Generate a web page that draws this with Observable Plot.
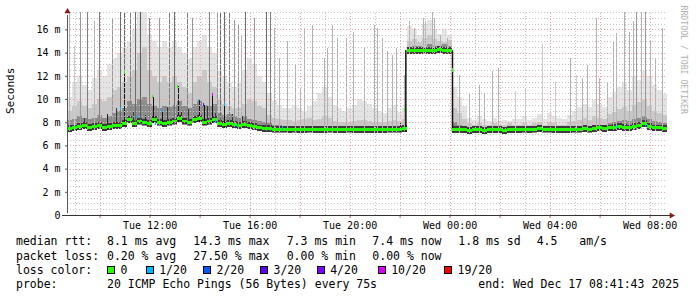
<!DOCTYPE html>
<html><head><meta charset="utf-8">
<script src="https://cdn.jsdelivr.net/npm/d3@7"></script>
<script src="https://cdn.jsdelivr.net/npm/@observablehq/plot@0.6"></script>
<style>
html,body{margin:0;padding:0;background:#fff;}
#wrap{position:relative;width:697px;height:297px;overflow:hidden;font-family:"DejaVu Sans Mono",monospace;background:#fff;}
#wrap svg{position:absolute;left:0;top:0;}
.lg{position:absolute;font-size:11.5px;line-height:14px;white-space:pre;color:#000;}
.sq{position:absolute;width:8px;height:8px;box-sizing:border-box;border:1px solid #000;}
</style></head><body><div id="wrap"></div>
<script>
// ---- time frame (24 h ending Wed Dec 17 08:41:43 2025) ----
const startTime = "2025-12-16T08:41:43Z";
const endTime = "2025-12-17T08:41:43Z";
const stepMinutes = 12; // one column of smoke = 12 minutes

// ---- median rtt per 12-minute step (ms) ----
const medianMs = [
  7.45, 7.5, 7.65, 7.7, 7.55, 7.6, 7.7, 7.55, 7.6, 7.7,
  7.7, 7.9, 8.2, 7.9, 8.1, 8.0, 7.9, 8.2, 8.0, 7.9,
  8.0, 8.1, 8.3, 8.1, 8.0, 8.2, 8.3, 8.0, 8.1, 8.2,
  7.9, 7.8, 7.9, 7.8, 7.7, 7.8, 7.7, 7.6, 7.5, 7.45,
  7.45, 7.4, 7.4, 7.4, 7.35, 7.4, 7.35, 7.35, 7.4, 7.35,
  7.35, 7.35, 7.4, 7.35, 7.35, 7.35, 7.4, 7.35, 7.35, 7.35,
  7.35, 7.35, 7.35, 7.35, 7.4, 7.4, 7.4, 7.45,
  14.15, 14.2, 14.2, 14.15, 14.2, 14.2, 14.25, 14.2, 14.2,
  7.35, 7.35, 7.35, 7.3, 7.35, 7.35, 7.3, 7.35, 7.35, 7.35, 7.3, 7.35, 7.35,
  7.35, 7.4, 7.35, 7.4, 7.45, 7.4, 7.4, 7.35, 7.35, 7.35,
  7.35, 7.4, 7.4, 7.45, 7.4, 7.45, 7.5, 7.45, 7.5, 7.55,
  7.6, 7.55, 7.5, 7.6, 7.7, 7.9, 7.6, 7.5, 7.5, 7.45
];
// top of the dense (dark) smoke per step (ms)
const darkSmokeMs = [
  8.2, 8.3, 8.5, 8.4, 8.3, 8.4, 8.6, 8.4, 8.5, 8.8,
  9.0, 9.2, 9.8, 9.6, 10.0, 10.2, 9.6, 9.4, 9.2, 9.4,
  9.3, 9.5, 9.8, 9.4, 9.2, 9.6, 9.8, 9.5, 9.4, 9.6,
  8.8, 8.6, 8.7, 8.5, 8.4, 8.5, 8.3, 8.2, 8.1, 8.0,
  7.9, 7.8, 7.8, 7.7, 7.7, 7.7, 7.7, 7.6, 7.6, 7.6,
  7.6, 7.7, 7.6, 7.6, 7.6, 7.6, 7.6, 7.6, 7.7, 7.6,
  7.6, 7.6, 7.6, 7.6, 7.7, 7.7, 7.7, 7.8,
  14.5, 14.6, 14.6, 14.5, 14.7, 14.6, 14.6, 14.7, 14.6,
  8.0, 7.8, 7.7, 7.6, 7.6, 7.6, 7.6, 7.6, 7.6, 7.6, 7.6, 7.6, 7.6,
  7.6, 7.6, 7.6, 7.6, 7.7, 7.6, 7.7, 7.6, 7.6, 7.6,
  7.7, 7.7, 7.7, 7.8, 7.7, 7.8, 7.8, 7.8, 7.9, 8.0,
  8.1, 8.2, 8.1, 8.3, 8.4, 8.5, 8.3, 8.1, 8.0, 7.9
];
// top of the medium smoke per step (ms)
const midSmokeMs = [
  9.0, 9.4, 9.8, 9.4, 9.2, 9.6, 10.0, 9.8, 10.2, 10.8,
  11.0, 11.5, 12.0, 12.5, 14.0, 14.5, 12.5, 12.0, 11.5, 12.0,
  11.5, 12.0, 11.5, 11.0, 10.5, 11.5, 12.0, 12.5, 11.5, 11.0,
  10.0, 9.6, 9.4, 9.2, 9.2, 9.6, 10.0, 9.8, 9.4, 9.2,
  8.6, 8.4, 8.3, 8.2, 8.2, 8.1, 8.2, 8.3, 8.4, 8.2,
  8.3, 8.5, 8.4, 8.1, 8.0, 8.0, 8.0, 8.1, 8.2, 8.2,
  8.1, 8.0, 8.0, 8.0, 8.1, 8.2, 8.1, 8.3,
  15.0, 15.2, 14.9, 15.3, 15.5, 15.2, 15.0, 14.9, 15.1,
  9.2, 8.8, 8.3, 7.9, 7.8, 7.9, 7.8, 7.8, 7.9, 7.8, 7.8, 7.9, 7.8,
  7.8, 7.9, 7.8, 7.9, 8.0, 7.8, 8.0, 7.9, 7.8, 7.8,
  8.0, 8.1, 8.2, 8.4, 8.2, 8.5, 8.4, 8.3, 8.7, 8.9,
  9.1, 9.3, 9.0, 9.5, 9.7, 9.9, 9.4, 9.0, 8.8, 8.6
];
// top of the light haze per step (ms)
const lightSmokeMs = [
  10.2, 11.5, 12.0, 11.2, 10.8, 11.8, 12.5, 12.0, 13.0, 13.5,
  14.0, 14.5, 15.0, 16.0, 17.5, 17.5, 15.5, 15.0, 14.5, 15.0,
  14.5, 15.0, 14.5, 14.0, 13.5, 14.5, 15.0, 15.5, 14.5, 14.0,
  12.5, 12.0, 11.5, 11.0, 11.5, 12.5, 13.5, 13.0, 12.0, 11.5,
  10.5, 9.8, 9.5, 9.2, 9.2, 9.5, 9.2, 9.0, 9.4, 9.8,
  10.5, 11.0, 10.2, 9.5, 9.2, 9.0, 9.2, 9.5, 10.0, 9.8,
  9.6, 9.2, 9.0, 8.8, 9.2, 9.5, 8.9, 9.2,
  16.3, 16.0, 15.5, 16.5, 16.8, 16.0, 15.6, 16.0, 15.5,
  11.0, 10.2, 9.4, 8.4, 8.2, 8.5, 8.3, 8.1, 8.4, 8.1, 8.2, 8.1, 8.3,
  8.3, 8.5, 8.2, 8.4, 8.7, 8.3, 8.8, 8.5, 8.4, 8.3,
  8.6, 9.0, 9.3, 9.6, 9.3, 9.9, 9.6, 9.3, 10.2, 10.6,
  11.0, 11.5, 10.8, 12.0, 11.6, 12.4, 12.0, 11.2, 10.8, 10.4
];

// ---- individual ping spikes: minutes after start, top (ms), pings involved ----
const spikeMinute = [4,16,32,48,64,76,96,108,128,137.5,152,164,176,186.5,197.5,220,244,256,274,288,300,340,360,
  40,118,158,240,290,335,355,395,420,
  368,377.5,388,400,410,417.6,428,448,478,488,496,508,528,548,558.5,569.5,588,616,624,636,648,670,686,712,736,
  744,756,768,780,790,800,809,820,832,854,860,876,880,896,912,
  940,964,988,1000,1020,1034,1076,1098,
  1140,1172,1208,1222,1236,1248,1270,1276,1296,1310,1318,1336,1348,1358,1366,1378,1388,1400,1410,1428,
  137.5,205.7,265.7,316,328,348.7,228,377.5];
const spikeTopMs = [17.5,14.6,17.5,17.5,16.7,17.5,8.7,17.0,17.5,17.5,17.5,17.5,17.5,8.65,17.0,17.0,17.5,17.5,8.9,17.5,17.0,17.5,17.5,
  8.4,9.2,9.0,9.3,9.1,9.4,8.8,8.7,8.5,
  17.5,17.5,17.5,16.8,16.4,15.5,17.5,17.0,17.5,17.5,16.1,13.5,15.0,12.95,10.9,16.1,16.4,13.5,14.4,16.4,15.3,15.3,15.8,14.4,16.4,
  16.1,15.3,14.1,13.8,14.4,8.1,12.1,16.7,16.1,17.0,16.7,17.5,17.0,15.5,15.3,
  12.1,10.4,11.2,10.4,12.4,12.7,10.7,10.9,
  14.7,11.5,13.5,12.1,11.8,12.95,17.0,11.8,11.5,15.0,15.7,17.5,15.8,16.7,17.5,17.5,17.5,15.0,13.5,16.1,
  12.3,10.2,11.1,9.9,9.5,10.35,9.0,9.5];
const spikePings = [2,1,3,4,2,4,12,3,5,5,4,5,6,12,4,3,4,5,12,4,3,4,3,
  10,10,10,10,10,10,10,10,10,
  5,5,4,3,3,2,5,3,5,4,2,2,2,2,2,2,2,2,2,2,2,2,2,2,2,
  2,2,2,2,2,12,2,2,2,2,2,2,2,2,2,
  2,2,2,2,2,2,1,1,
  1,1,2,1,2,2,2,2,2,2,2,2,2,2,3,2,3,2,2,2,
  14,14,14,14,14,14,14,14];

// ---- level shifts (minutes after start, from ms, to ms) ----
const shiftMinute = [812, 924];
const shiftFromMs = [7.4, 7.4];
const shiftToMs = [14.2, 14.2];

// ---- median points with their packet loss (of 20) ----
const lossDotMinute = [128,137.5,166,205.7,213,228,265.7,316,328,348.7,356,377.5,408,516,809,924,1320,1392];
const lossDotMs = [9.2,12.3,8.5,10.2,7.9,9.0,11.1,9.9,9.5,10.35,8.1,9.5,7.7,7.5,9.06,12.5,7.6,7.7];
const lossDotCount = [1,0,1,0,1,1,0,1,3,10,1,1,1,1,0,0,1,1];

// ---- loss colour legend ----
const lossLevels = [0, 1, 2, 3, 4, 10, 19];
const lossLabels = ["0", "1/20", "2/20", "3/20", "4/20", "10/20", "19/20"];
const lossColors = ["#26ff00", "#00b8ff", "#0059ff", "#5e00ff", "#7e00ff", "#dd00ff", "#ff0000"];

// ---- axes ----
const yTickValues = [0, 2, 4, 6, 8, 10, 12, 14, 16];
const yTickLabels = ["0", "2 m", "4 m", "6 m", "8 m", "10 m", "12 m", "14 m", "16 m"];
const xTickTimes = ["2025-12-16T12:00Z","2025-12-16T16:00Z","2025-12-16T20:00Z","2025-12-17T00:00Z","2025-12-17T04:00Z","2025-12-17T08:00Z"];
const xTickLabels = ["Tue 12:00", "Tue 16:00", "Tue 20:00", "Wed 00:00", "Wed 04:00", "Wed 08:00"];

// ---- legend text ----
const rttLabels = ["median rtt:", "8.1 ms avg", "14.3 ms max", "7.3 ms min", "7.4 ms now", "1.8 ms sd", "4.5", "am/s"];
const lossTextLabels = ["packet loss:", "0.20 % avg", "27.50 % max", "0.00 % min", "0.00 % now"];
const probeText = ["probe:", "20 ICMP Echo Pings (56 Bytes) every 75s", "end: Wed Dec 17 08:41:43 2025"];

// ================= build =================
const T0 = new Date(startTime).getTime();
const T1 = new Date(endTime).getTime();
const atMin = m => new Date(T0 + m * 60000);
const Y_MAX = 17.5;
const colOf = i => lossColors[lossLevels.indexOf(i)];

const steps = medianMs.map((m, i) => ({
  x1: atMin(i * stepMinutes), x2: atMin((i + 1) * stepMinutes),
  med: m, lo: m - 0.3, dark: darkSmokeMs[i], mid: midSmokeMs[i], light: Math.min(Y_MAX, lightSmokeMs[i])
}));
const medAt = min => medianMs[Math.min(medianMs.length - 1, Math.floor(min / stepMinutes))];
const shade = d3.scaleLinear().domain([1, 2, 4, 6, 14]).range(["#cccccc", "#b2b2b2", "#7e7e7e", "#5a5a5a", "#111111"]).clamp(true);
const spikes = spikeMinute.map((m, i) => ({x: atMin(m), lo: medAt(m) - 0.25, hi: Math.min(Y_MAX, spikeTopMs[i]), n: spikePings[i]}))
  .sort((a, b) => a.n - b.n);
const shifts = shiftMinute.map((m, i) => ({x: atMin(m), lo: shiftFromMs[i] - 0.2, hi: shiftToMs[i]}));
const dots = lossDotMinute.map((m, i) => ({x1: atMin(m - 1.2), x2: atMin(m + 1.2), v: lossDotMs[i], c: colOf(lossDotCount[i])}));

// grid
const hours = d3.utcHour.range(new Date(T0), new Date(T1));
const majorX = hours.filter(d => d.getUTCHours() % 2 === 0);
const minorX = hours.filter(d => d.getUTCHours() % 2 === 1);
const halfs = d3.range(0.5, Y_MAX + 0.01, 0.5);
const majorY = halfs.filter(v => v % 2 === 0);
const minorY = halfs.filter(v => v % 2 !== 0);

const MONO = "DejaVu Sans Mono";
const xTicks = xTickTimes.map(s => new Date(s));

const chart = Plot.plot({
  width: 697, height: 234,
  marginLeft: 67, marginRight: 30, marginTop: 12, marginBottom: 19,
  style: {fontFamily: MONO, fontSize: "10px", color: "#000", background: "transparent", overflow: "visible"},
  x: {type: "utc", domain: [new Date(T0), new Date(T1)]},
  y: {domain: [0, Y_MAX]},
  color: {type: "identity"},
  marks: [
    // smoke layers
    Plot.rectY(steps, {x1: "x1", x2: "x2", y1: "lo", y2: "light", fill: "#e4e4e4", shapeRendering: "crispEdges"}),
    Plot.rectY(steps, {x1: "x1", x2: "x2", y1: "lo", y2: "mid", fill: "#c8c8c8", shapeRendering: "crispEdges"}),
    Plot.rectY(steps, {x1: "x1", x2: "x2", y1: "lo", y2: "dark", fill: "#8c8c8c", shapeRendering: "crispEdges"}),
    Plot.rectY(steps, {x1: "x1", x2: "x2", y1: d => d.med - 0.28, y2: d => d.med + 0.3, fill: "#3a3a3a", shapeRendering: "crispEdges"}),
    Plot.ruleX(spikes, {x: "x", y1: "lo", y2: "hi", stroke: d => shade(d.n), strokeWidth: 1, shapeRendering: "crispEdges"}),
    // grid
    Plot.ruleY(minorY, {stroke: "#c4c4c4", strokeDasharray: "1,2", strokeWidth: 1, shapeRendering: "crispEdges"}),
    Plot.ruleX(minorX, {y1: 0, y2: Y_MAX, stroke: "#c4c4c4", strokeDasharray: "1,2", shapeRendering: "crispEdges"}),
    Plot.ruleY(majorY, {stroke: "#f2a2a2", strokeDasharray: "1,2", shapeRendering: "crispEdges"}),
    Plot.ruleX(majorX, {y1: 0, y2: Y_MAX, stroke: "#f2a2a2", strokeDasharray: "1,2", shapeRendering: "crispEdges"}),
    // level shifts and median
    Plot.ruleX(shifts, {x: "x", y1: "lo", y2: "hi", stroke: "#111", strokeWidth: 1.5}),
    Plot.rectY(steps, {x1: "x1", x2: "x2", y1: d => d.med - 0.12, y2: d => d.med + 0.13, fill: colOf(0), shapeRendering: "crispEdges"}),
    Plot.rectY(dots, {x1: "x1", x2: "x2", y1: d => d.v - 0.13, y2: d => d.v + 0.13, fill: "c", shapeRendering: "crispEdges"}),
    // axes
    Plot.axisY({ticks: yTickValues, tickFormat: d => yTickLabels[yTickValues.indexOf(d)], tickSize: 2, tickPadding: 5, stroke: "#555", fill: "#000", label: null, fontFamily: MONO, fontSize: 10}),
    Plot.axisX({ticks: majorX, tickFormat: () => "", tickSize: 3, tickPadding: 0, stroke: "#c06060", label: null}),
    Plot.axisX({ticks: xTicks, tickFormat: d => xTickLabels[xTicks.findIndex(t => +t === +d)], tickSize: 0, tickPadding: 6, fill: "#000", label: null, fontFamily: MONO, fontSize: 10}),
    Plot.ruleX([new Date(T0)], {y1: 0, y2: Y_MAX, stroke: "#555", insetTop: -2, insetBottom: -3}),
    Plot.ruleY([0], {x1: new Date(T0), x2: new Date(T1), stroke: "#333", insetLeft: -5, insetRight: -3}),
    Plot.dot([0], {x: () => new Date(T0), y: () => Y_MAX, symbol: "triangle", r: 2.3, fill: "#8b1a1a", stroke: "none", dy: -1}),
    Plot.dot([0], {x: () => new Date(T1), y: () => 0, symbol: "triangle", r: 2.3, fill: "#8b1a1a", stroke: "none", dx: 4, rotate: 90}),
    // labels
    Plot.text(["Seconds"], {text: d => d, frameAnchor: "left", dx: -57, rotate: -90, fontSize: 11, fontFamily: MONO, fill: "#000"}),
    Plot.text(["RRDTOOL / TOBI OETIKER"], {text: d => d, frameAnchor: "top-right", dx: 19, dy: -7, rotate: 90, textAnchor: "start", fontSize: 8.2, fontFamily: MONO, fill: "#b0b0b0"})
  ]
});

const wrap = document.getElementById("wrap");
wrap.appendChild(chart);

// legend (HTML under the SVG)
function addText(txt, left, top) {
  const d = document.createElement("div");
  d.className = "lg"; d.textContent = txt;
  d.style.left = left + "px"; d.style.top = top + "px";
  wrap.appendChild(d);
}
const colX = [16, 107, 193.3, 286.7, 372.3, 458.3, 536.7, 579.3];
rttLabels.forEach((s, i) => addText(s, colX[i], 234));
lossTextLabels.forEach((s, i) => addText(s, colX[i], 248.5));
addText("loss color:", 16, 262.5);
const sqX = [107, 145.7, 203, 260, 316.7, 377.7, 444];
lossLabels.forEach((s, i) => {
  const q = document.createElement("div");
  q.className = "sq"; q.style.left = sqX[i] + "px"; q.style.top = "266px"; q.style.background = lossColors[i];
  wrap.appendChild(q);
  addText(s, sqX[i] + 13.5, 262.5);
});
addText(probeText[0], 16, 276.5);
addText(probeText[1], 107, 276.5);
addText(probeText[2], 478.3, 276.5);
</script></body></html>
